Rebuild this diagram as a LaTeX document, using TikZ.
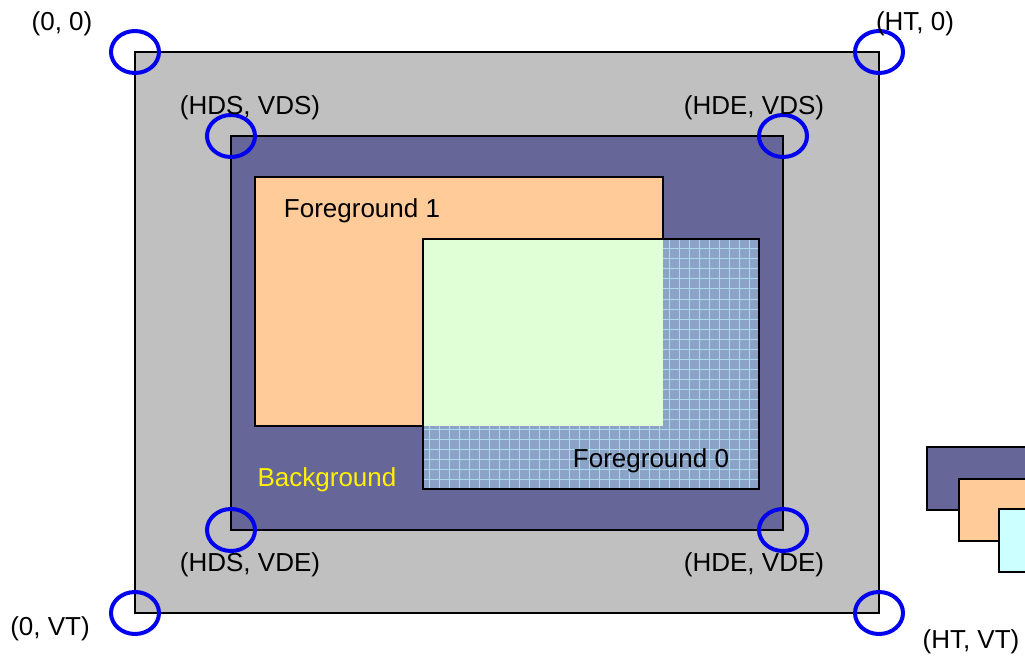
\documentclass[tikz,border=0pt]{standalone}
\usepackage{fontspec}
\setmainfont{Liberation Sans}
\usetikzlibrary{shapes.geometric}
\definecolor{panelgray}{RGB}{192,192,192}
\definecolor{bgpurple}{RGB}{102,102,153}
\definecolor{fgorange}{RGB}{255,204,153}
\definecolor{fggreen}{RGB}{224,255,214}
\definecolor{fgblue}{RGB}{140,162,198}
\definecolor{gridcyan}{RGB}{172,218,236}
\definecolor{fgcyan}{RGB}{204,255,255}
\definecolor{ringblue}{RGB}{0,0,238}
\begin{document}
\begin{tikzpicture}[x=1pt,y=-1pt,
  lbl/.style={font=\fontsize{26}{30}\selectfont, inner sep=0pt},
  ring/.style={draw=ringblue, line width=4pt, ellipse, minimum width=48pt, minimum height=42pt, inner sep=0pt},
  boxline/.style={draw=black, line width=2pt}]
\useasboundingbox (0,0) rectangle (1025,660);
\begin{scope}
\clip (0,0) rectangle (1025,660);
% outer display area
\draw[boxline, fill=panelgray] (135,52) rectangle (879,613);
% background plane
\draw[boxline, fill=bgpurple] (231,136) rectangle (783,530);
% foreground 1
\draw[boxline, fill=fgorange] (255,177) rectangle (663,426);
% foreground 0 (grid)
\fill[fgblue] (423,239) rectangle (759,489);
\begin{scope}
\clip (423,239) rectangle (759,489);
\foreach \x in {429,439,...,759} \draw[gridcyan, line width=1pt] (\x,239) -- (\x,489);
\foreach \y in {249,259,...,489} \draw[gridcyan, line width=1pt] (423,\y) -- (759,\y);
\end{scope}
\fill[fggreen] (423,239) rectangle (663,426);
\draw[boxline] (423,239) rectangle (759,489);
% legend stack on the right
\draw[boxline, fill=bgpurple] (927,447) rectangle (1040,510);
\draw[boxline, fill=fgorange] (959,479) rectangle (1040,541);
\draw[boxline, fill=fgcyan] (999,509) rectangle (1040,572);
\end{scope}
% texts
\node[lbl] (fg1) at (362,211) {Foreground 1};
\node[lbl] (fg0) at (651,461) {Foreground 0};
\node[lbl, text=yellow] (bg) at (327,480) {Background};
% corner rings
\node[ring] (c1) at (135,52) {};
\node[ring] (c2) at (879,52) {};
\node[ring] (c3) at (231,136) {};
\node[ring] (c4) at (783,136) {};
\node[ring] (c5) at (231,530) {};
\node[ring] (c6) at (783,530) {};
\node[ring] (c7) at (135,613) {};
\node[ring] (c8) at (879,613) {};
% coordinate labels
\node[lbl] (l1) at (62,24) {(0, 0)};
\node[lbl] (l2) at (915,24) {(HT, 0)};
\node[lbl] (l3) at (250,108) {(HDS, VDS)};
\node[lbl] (l4) at (754,108) {(HDE, VDS)};
\node[lbl] (l5) at (250,565) {(HDS, VDE)};
\node[lbl] (l6) at (754,565) {(HDE, VDE)};
\node[lbl] (l7) at (50,629) {(0, VT)};
\node[lbl] (l8) at (971,642) {(HT, VT)};
\end{tikzpicture}
\end{document}
